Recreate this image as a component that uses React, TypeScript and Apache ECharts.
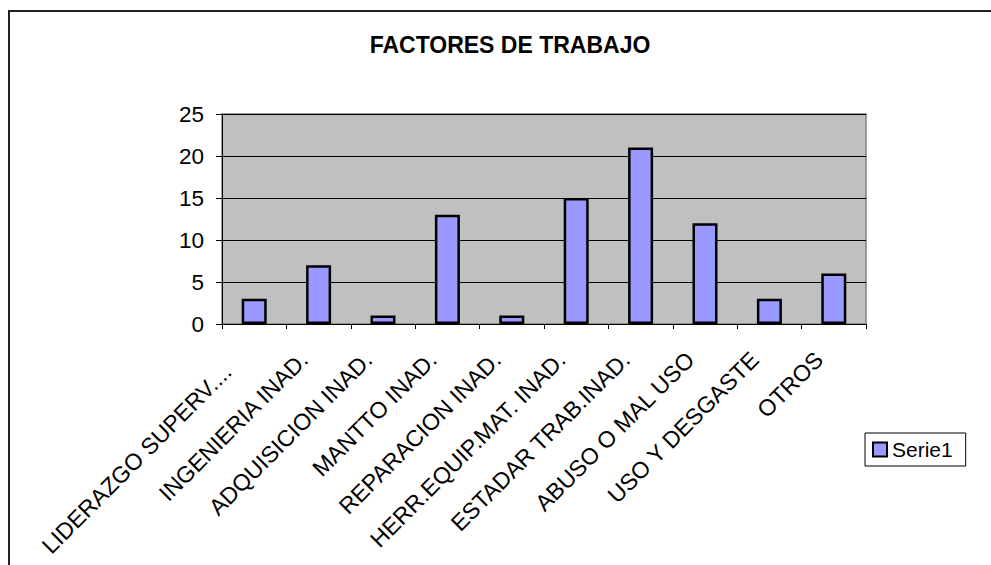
import React, { useEffect, useRef } from "react";
import * as echarts from "echarts";

const categories = [
  "LIDERAZGO SUPERV....",
  "INGENIERIA INAD.",
  "ADQUISICION INAD.",
  "MANTTO INAD.",
  "REPARACION INAD.",
  "HERR.EQUIP.MAT. INAD.",
  "ESTADAR TRAB.INAD.",
  "ABUSO O MAL USO",
  "USO Y DESGASTE",
  "OTROS",
];
const serie1 = [3, 7, 1, 13, 1, 15, 21, 12, 3, 6];
const seriesName = "Serie1";
const chartTitle = "FACTORES DE TRABAJO";
const yMin = 0;
const yMax = 25;
const yStep = 5;

const FONT = "'Liberation Sans', Arial, sans-serif";

export default function App() {
  const ref = useRef<HTMLDivElement>(null);
  useEffect(() => {
    if (!ref.current) return;
    const chart = echarts.init(ref.current, null, { renderer: "svg" });
    chart.setOption({
      animation: false,
      backgroundColor: "#ffffff",
      title: {
        text: chartTitle,
        left: 505,
        top: 28,
        textAlign: "center",
        textStyle: { fontFamily: FONT, fontSize: 23, fontWeight: "bold", color: "#000" },
      },
      graphic: [
        {
          type: "rect",
          shape: { x: 9, y: 11, width: 1200, height: 800 },
          style: { fill: "none", stroke: "#222", lineWidth: 2 },
          silent: true,
        },
      ],
      legend: {
        left: 865,
        top: 433,
        padding: [6, 13, 6, 7],
        itemWidth: 14,
        itemHeight: 14,
        itemGap: 5,
        borderColor: "#000",
        borderWidth: 1,
        icon: "rect",
        textStyle: { fontFamily: FONT, fontSize: 21, color: "#000" },
        data: [seriesName],
      },
      grid: {
        left: 222,
        top: 114,
        right: 125,
        bottom: 241,
        show: true,
        backgroundColor: "#c0c0c0",
        borderColor: "#808080",
        borderWidth: 1.5,
      },
      xAxis: {
        type: "category",
        data: categories,
        axisLine: { lineStyle: { color: "#000", width: 1 } },
        axisTick: { show: true, length: 5, lineStyle: { color: "#000" } },
        axisLabel: {
          interval: 0,
          rotate: 45,
          margin: 17,
          color: "#000",
          fontFamily: FONT,
          fontSize: 23,
          formatter: (v: string, i: number) => (i === 0 ? `{a|${v}}` : `{b|${v}}`),
          rich: {
            a: { fontFamily: FONT, fontSize: 23, color: "#000", padding: [0, 38, 0, 0] },
            b: { fontFamily: FONT, fontSize: 23, color: "#000", padding: [0, 21, 0, 0] },
          },
        },
      },
      yAxis: {
        type: "value",
        min: yMin,
        max: yMax,
        interval: yStep,
        axisLine: { show: true, lineStyle: { color: "#000", width: 1 } },
        axisTick: { show: true, length: 6, lineStyle: { color: "#000" } },
        axisLabel: { margin: 18, color: "#000", fontFamily: FONT, fontSize: 22.5 },
        splitLine: { show: true, lineStyle: { color: "#000", width: 1 } },
      },
      series: [
        {
          name: seriesName,
          type: "bar",
          data: serie1,
          barWidth: 25,
          itemStyle: { color: "#9999ff", borderColor: "#000", borderWidth: 2.5 },
        },
      ],
    });
    return () => chart.dispose();
  }, []);
  return (
    <div
      ref={ref}
      style={{ position: "absolute", left: 0, top: 0, width: 991, height: 565 }}
    />
  );
}
